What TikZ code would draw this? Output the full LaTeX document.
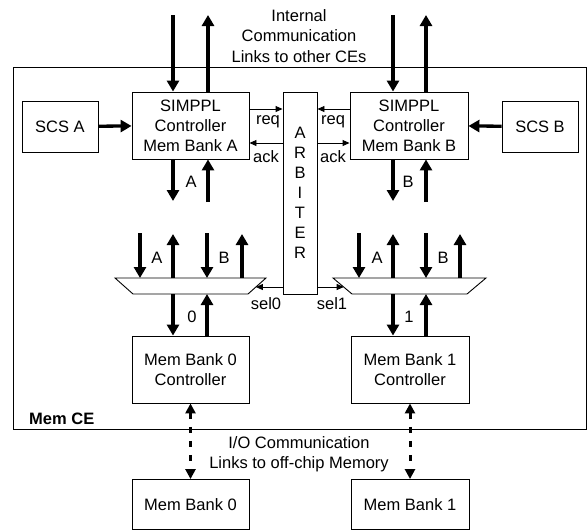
\documentclass[tikz,border=0pt]{standalone}
\usepackage{fontspec}
\setmainfont{Liberation Sans}
\usetikzlibrary{arrows.meta,calc}
\begin{document}
\begin{tikzpicture}[x=1pt,y=-1pt,
  txt/.style={font=\fontsize{16.5}{20}\selectfont, inner sep=0pt, align=center},
  box/.style={draw, line width=0.9pt, txt},
  big/.style={line width=3.3pt, -{Triangle[length=11pt,width=12pt]}},
  thinarr/.style={line width=0.9pt, -{Triangle[length=7pt,width=6pt]}},
  dotarr/.style={line width=3pt, dash pattern=on 6pt off 8pt,
     {Triangle[length=10pt,width=10pt]}-{Triangle[length=10pt,width=10pt]}},
  lbl/.style={txt}
]
\useasboundingbox (0,0) rectangle (588,531);

% outer Mem CE box
\draw[line width=0.9pt] (13,67) rectangle (586,429);
\node[txt, font=\fontsize{16.5}{20}\selectfont\bfseries, anchor=west] (memce) at (29,419) {Mem CE};

% top text
\node[txt, font=\fontsize{16.5}{20.5}\selectfont] (itext) at (299,36) {Internal\\Communication\\Links to other CEs};

% boxes
\node[box, minimum width=76pt, minimum height=51pt] (scsA) at (60,126.5) {SCS A};
\node[box, minimum width=117pt, minimum height=67pt] (sA) at (190.5,125.5) {SIMPPL\\Controller\\Mem Bank A};
\node[box, minimum width=118pt, minimum height=67pt] (sB) at (409,125.5) {SIMPPL\\Controller\\Mem Bank B};
\node[box, minimum width=76pt, minimum height=51pt] (scsB) at (540,126.5) {SCS B};
\node[box, minimum width=34pt, minimum height=202pt] (arb) at (300,193) {A\\R\\B\\I\\T\\E\\R};
\node[box, minimum width=117pt, minimum height=67pt] (mc0) at (190.5,369.5) {Mem Bank 0\\Controller};
\node[box, minimum width=118pt, minimum height=67pt] (mc1) at (410,369.5) {Mem Bank 1\\Controller};
\node[box, minimum width=117pt, minimum height=50pt] (mb0) at (190.5,504.5) {Mem Bank 0};
\node[box, minimum width=118pt, minimum height=50pt] (mb1) at (410,504.5) {Mem Bank 1};

% muxes
\coordinate (m0tl) at (115,278); \coordinate (m0tr) at (266,278);
\coordinate (m0br) at (248,294); \coordinate (m0bl) at (133,294);
\coordinate (m1tl) at (333,278); \coordinate (m1tr) at (486,278);
\coordinate (m1br) at (467,294); \coordinate (m1bl) at (352,294);
\draw[line width=0.9pt] (m0tl) -- (m0tr) -- (m0br) -- (m0bl) -- cycle;
\draw[line width=0.9pt] (m1tl) -- (m1tr) -- (m1br) -- (m1bl) -- cycle;

% SCS arrows
\draw[big] (scsA) -- (sA);
\draw[big] (scsB) -- (sB);

% top external arrows
\coordinate (tAi) at (173,15); \coordinate (tAo) at (208,15);
\coordinate (tBi) at (393,15); \coordinate (tBo) at (426,15);
\draw[big] (tAi) -- (tAi |- sA.north);
\draw[big] (tAo |- sA.north) -- (tAo);
\draw[big] (tBi) -- (tBi |- sB.north);
\draw[big] (tBo |- sB.north) -- (tBo);

% below SIMPPL arrows
\coordinate (bAd) at (173,201); \coordinate (bAu) at (208,202);
\coordinate (bBd) at (393,201); \coordinate (bBu) at (426,202);
\draw[big] (bAd |- sA.south) -- (bAd);
\draw[big] (bAu) -- (bAu |- sA.south);
\draw[big] (bBd |- sB.south) -- (bBd);
\draw[big] (bBu) -- (bBu |- sB.south);
\node[lbl] (lA) at (191,182) {A};
\node[lbl] (lB) at (408,182) {B};

% mux input arrows
\coordinate (p0a) at (140,233); \coordinate (p0b) at (173,234);
\coordinate (p0c) at (207,233); \coordinate (p0d) at (242,234);
\coordinate (p1a) at (359,233); \coordinate (p1b) at (393,234);
\coordinate (p1c) at (426,233); \coordinate (p1d) at (460,234);
\draw[big] (p0a) -- (p0a |- m0tl);
\draw[big] (p0b |- m0tl) -- (p0b);
\draw[big] (p0c) -- (p0c |- m0tl);
\draw[big] (p0d |- m0tl) -- (p0d);
\draw[big] (p1a) -- (p1a |- m1tl);
\draw[big] (p1b |- m1tl) -- (p1b);
\draw[big] (p1c) -- (p1c |- m1tl);
\draw[big] (p1d |- m1tl) -- (p1d);
\node[lbl] (l0A) at (157,258) {A};
\node[lbl] (l0B) at (224,258) {B};
\node[lbl] (l1A) at (377,258) {A};
\node[lbl] (l1B) at (443,258) {B};

% mux to controllers
\draw[big] (p0b |- m0bl) -- (p0b |- mc0.north);
\draw[big] (p0c |- mc0.north) -- (p0c |- m0bl);
\draw[big] (p1b |- m1bl) -- (p1b |- mc1.north);
\draw[big] (p1c |- mc1.north) -- (p1c |- m1bl);
\node[lbl] (l0) at (192,317) {0};
\node[lbl] (l1) at (409,317) {1};

% req / ack
\coordinate (rq) at (0,109); \coordinate (ak) at (0,143);
\draw[thinarr] (rq -| sA.east) -- (rq -| arb.west);
\draw[thinarr] (ak -| arb.west) -- (ak -| sA.east);
\draw[thinarr] (rq -| sB.west) -- (rq -| arb.east);
\draw[thinarr] (ak -| arb.east) -- (ak -| sB.west);
\node[lbl] (reqA) at (268,122) {req};
\node[lbl] (ackA) at (266,157) {ack};
\node[lbl] (reqB) at (333,122) {req};
\node[lbl] (ackB) at (333,157) {ack};

% sel
\coordinate (s0) at ($(m0tr)!0.5625!(m0br)$);
\coordinate (s1) at ($(m1tl)!0.5625!(m1bl)$);
\draw[thinarr] (s0 -| arb.west) -- (s0);
\draw[thinarr] (s1 -| arb.east) -- (s1);
\node[lbl] (sel0) at (266,304) {sel0};
\node[lbl] (sel1) at (332,304) {sel1};

% off-chip links
\draw[dotarr] (mc0.south) -- (mb0.north);
\draw[dotarr] (mc1.south) -- (mb1.north);
\node[txt] (iotext) at (299,454) {I/O Communication\\Links to off-chip Memory};
\end{tikzpicture}
\end{document}
